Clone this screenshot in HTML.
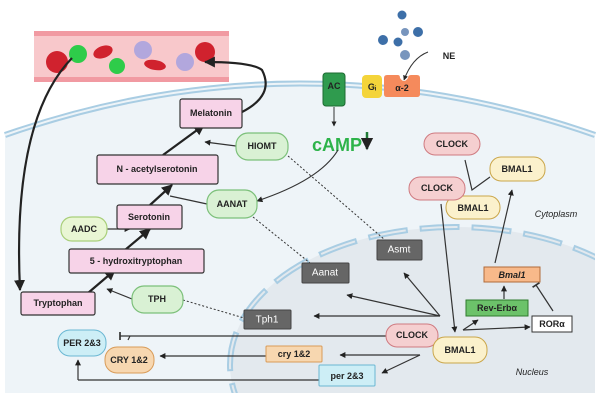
<!DOCTYPE html>
<html><head><meta charset="utf-8"><style>
html,body{margin:0;padding:0;background:#fff;width:600px;height:400px;overflow:hidden;}
svg{display:block;font-family:"Liberation Sans",sans-serif;}
text{font-weight:bold;font-size:9px;fill:#222;text-anchor:middle;dominant-baseline:central;}
</style></head><body>
<svg width="600" height="400" viewBox="0 0 600 400" xmlns="http://www.w3.org/2000/svg">
<defs>
<marker id="a" viewBox="0 0 10 10" refX="9" refY="5" markerWidth="5" markerHeight="5" orient="auto"><path d="M0,0L10,5L0,10z" fill="#222"/></marker>
<marker id="t" viewBox="0 0 4 10" refX="2" refY="5" markerWidth="3" markerHeight="7" orient="auto"><path d="M2,0V10" stroke="#333" stroke-width="2"/></marker>
<clipPath id="cc"><rect x="5" y="0" width="590" height="393"/></clipPath>
</defs>
<path d="M5,135 Q300,32 595,135 L595,393 L5,393Z" fill="#eef4f8"/>
<path d="M5,135 Q300,32 595,135" fill="none" stroke="#a9cde3" stroke-width="6"/>
<path d="M5,135 Q300,32 595,135" fill="none" stroke="#eef4f8" stroke-width="2"/>
<g clip-path="url(#cc)">
<ellipse cx="455" cy="365" rx="225" ry="138" fill="#e3e9ee"/>
<ellipse cx="455" cy="365" rx="225" ry="138" fill="none" stroke="#a9cde3" stroke-width="6" stroke-dasharray="40 12"/>
<ellipse cx="455" cy="365" rx="225" ry="138" fill="none" stroke="#e3e9ee" stroke-width="2" stroke-dasharray="36 16" stroke-dashoffset="-2"/>
</g>
<rect x="34" y="31" width="195" height="51" fill="#f8c8cb"/>
<rect x="34" y="31" width="195" height="5" fill="#f19aa2"/>
<rect x="34" y="77" width="195" height="5" fill="#f19aa2"/>
<circle cx="57" cy="62" r="11" fill="#d0222e"/>
<circle cx="78" cy="54" r="9" fill="#2ecc4a"/>
<ellipse cx="103" cy="52" rx="10" ry="6" fill="#d0222e" transform="rotate(-20 103 52)"/>
<circle cx="117" cy="66" r="8" fill="#2ecc4a"/>
<circle cx="143" cy="50" r="9" fill="#b2a7dd"/>
<ellipse cx="155" cy="65" rx="11" ry="5" fill="#d0222e" transform="rotate(10 155 65)"/>
<circle cx="185" cy="62" r="9" fill="#b2a7dd"/>
<circle cx="205" cy="52" r="10" fill="#d0222e"/>
<g fill="#3d6fa8"><circle cx="402" cy="15" r="4.5"/><circle cx="418" cy="32" r="5"/><circle cx="405" cy="32" r="4" fill="#7895bd"/><circle cx="398" cy="42" r="4.5"/><circle cx="383" cy="40" r="5"/><circle cx="405" cy="55" r="5" fill="#7895bd"/></g>
<text x="449" y="56">NE</text>
<path d="M428,52 Q412,58 404,80" fill="none" stroke="#333" stroke-width="1" marker-end="url(#a)"/>
<rect x="323" y="73" width="22" height="33" rx="3" fill="#2f9b4e" stroke="#1d6b32"/>
<text x="334" y="86" font-size="8">AC</text>
<rect x="362" y="75" width="20" height="23" rx="4" fill="#f4d43a"/>
<text x="372" y="87" font-size="7">Gᵢ</text>
<path d="M384,78 q0,-3 3,-3 h11 q2,0 2,3 q4,6 8,0 q0,-3 3,-3 h6 q3,0 3,3 v16 q0,3 -3,3 h-30 q-3,0 -3,-3z" fill="#f58a5c"/>
<text x="402" y="88" font-size="8">α-2</text>
<line x1="334" y1="107" x2="334" y2="126" stroke="#333" marker-end="url(#a)"/>
<text x="337" y="145" style="font-size:18px;fill:#2db34a">cAMP</text>
<path d="M367,132 v17" stroke="#1f7a36" stroke-width="2.5" marker-end="url(#a)"/>
<g stroke="#222" stroke-width="2.2" fill="none">
<path d="M72,58 Q12,120 20,290" marker-end="url(#a)"/>
<path d="M242,112 Q275,95 262,70 Q252,62 205,62" marker-end="url(#a)"/>
<path d="M88,293 L115,270" marker-end="url(#a)"/>
<path d="M125,250 L150,229" marker-end="url(#a)"/>
<path d="M150,205 L172,185" marker-end="url(#a)"/>
<path d="M163,155 L204,125" marker-end="url(#a)"/>
</g>
<g stroke="#333" stroke-width="1.2" fill="none">
<line x1="236" y1="146" x2="205" y2="142" marker-end="url(#a)"/>
<line x1="207" y1="204" x2="170" y2="196" />
<line x1="107" y1="229" x2="130" y2="229" marker-end="url(#a)"/>
<line x1="132" y1="299" x2="107" y2="289" marker-end="url(#a)"/>
<path d="M338,150 Q320,180 257,201" marker-end="url(#a)"/>
</g>
<g stroke="#333" stroke-width="1" stroke-dasharray="2 2" fill="none">
<line x1="288" y1="156" x2="385" y2="240"/>
<line x1="253" y1="217" x2="310" y2="263"/>
<line x1="183" y1="300" x2="244" y2="318"/>
</g>
<g stroke="#333" stroke-width="1.2" fill="none">
<line x1="441" y1="204" x2="455" y2="332" marker-end="url(#a)"/>
<line x1="495" y1="263" x2="512" y2="190" marker-end="url(#a)"/>
<line x1="440" y1="316" x2="404" y2="273" marker-end="url(#a)"/>
<line x1="440" y1="316" x2="347" y2="295" marker-end="url(#a)"/>
<line x1="440" y1="316" x2="314" y2="316" marker-end="url(#a)"/>
<line x1="386" y1="336" x2="120" y2="336" marker-end="url(#t)"/>
<line x1="130" y1="336" x2="128" y2="340"/>
<line x1="420" y1="355" x2="340" y2="355" marker-end="url(#a)"/>
<line x1="420" y1="355" x2="382" y2="373" marker-end="url(#a)"/>
<line x1="266" y1="356" x2="160" y2="356" marker-end="url(#a)"/>
<line x1="319" y1="380" x2="78" y2="380"/>
<line x1="78" y1="380" x2="78" y2="360" marker-end="url(#a)"/>
<line x1="463" y1="330" x2="478" y2="320" marker-end="url(#a)"/>
<line x1="463" y1="330" x2="530" y2="327" marker-end="url(#a)"/>
<line x1="504" y1="299" x2="504" y2="286" marker-end="url(#a)"/>
<line x1="553" y1="311" x2="536" y2="285" marker-end="url(#t)"/>
<path d="M465,160 L472,190 L490,177"/>
</g>
<g stroke="#333" stroke-width="1.2">
<rect x="180" y="99" width="62" height="29" rx="2" fill="#f7d3e8"/>
<rect x="97" y="155" width="121" height="29" rx="2" fill="#f7d3e8"/>
<rect x="117" y="205" width="65" height="24" rx="2" fill="#f7d3e8"/>
<rect x="69" y="249" width="135" height="24" rx="2" fill="#f7d3e8"/>
<rect x="21" y="292" width="74" height="23" rx="2" fill="#f7d3e8"/>
</g>
<g stroke="#7cc07a" stroke-width="1.2" fill="#d9f1d4">
<rect x="236" y="133" width="52" height="27" rx="12"/>
<rect x="207" y="190" width="50" height="28" rx="12"/>
<rect x="132" y="286" width="51" height="27" rx="12"/>
<rect x="61" y="217" width="46" height="24" rx="11" fill="#e9f6d4" stroke="#a9cf7a"/>
</g>
<text x="211" y="113">Melatonin</text>
<text x="157" y="169">N - acetylserotonin</text>
<text x="149" y="217">Serotonin</text>
<text x="136" y="261">5 - hydroxitryptophan</text>
<text x="58" y="303">Tryptophan</text>
<text x="262" y="146">HIOMT</text>
<text x="232" y="204">AANAT</text>
<text x="157" y="299">TPH</text>
<text x="84" y="229" font-size="8">AADC</text>
<g fill="#666" stroke="#444">
<rect x="244" y="310" width="47" height="19" rx="1"/>
<rect x="302" y="263" width="47" height="20" rx="1"/>
<rect x="377" y="240" width="45" height="20" rx="1"/>
</g>
<text x="267" y="320" style="fill:#fff;font-weight:normal;font-size:10px">Tph1</text>
<text x="325" y="273" style="fill:#fff;font-weight:normal;font-size:10px">Aanat</text>
<text x="399" y="250" style="fill:#fff;font-weight:normal;font-size:10px">Asmt</text>
<rect x="58" y="330" width="48" height="26" rx="12" fill="#cdeef6" stroke="#6ab7d3"/>
<text x="82" y="343">PER 2&amp;3</text>
<rect x="105" y="347" width="49" height="26" rx="12" fill="#f7d7b0" stroke="#d89b58"/>
<text x="129" y="360">CRY 1&amp;2</text>
<rect x="266" y="346" width="56" height="16" rx="1" fill="#f7d7b0" stroke="#d89b58"/>
<text x="294" y="354" font-size="8">cry 1&amp;2</text>
<rect x="319" y="365" width="56" height="21" rx="1" fill="#cdeef6" stroke="#6ab7d3"/>
<text x="347" y="376" font-size="8">per 2&amp;3</text>
<rect x="386" y="324" width="52" height="23" rx="11" fill="#f5cfd0" stroke="#cf7a80"/>
<text x="412" y="335" font-size="11">CLOCK</text>
<rect x="433" y="337" width="54" height="26" rx="12" fill="#fbf1cc" stroke="#caa64a"/>
<text x="460" y="350" font-size="11">BMAL1</text>
<rect x="466" y="300" width="62" height="16" fill="#6cc26a" stroke="#2f7b2e"/>
<text x="497" y="308" font-size="8">Rev-Erbα</text>
<rect x="532" y="316" width="40" height="16" fill="#fff" stroke="#333"/>
<text x="552" y="324" font-size="8">RORα</text>
<rect x="484" y="267" width="56" height="15" fill="#f8b98a" stroke="#b06c3a"/>
<text x="512" y="275" font-size="8" font-style="italic">Bmal1</text>
<rect x="424" y="133" width="56" height="22" rx="11" fill="#f5cfd0" stroke="#cf7a80"/>
<text x="452" y="144">CLOCK</text>
<rect x="490" y="157" width="55" height="24" rx="11" fill="#fbf1cc" stroke="#caa64a"/>
<text x="517" y="169">BMAL1</text>
<rect x="446" y="196" width="54" height="23" rx="11" fill="#fbf1cc" stroke="#caa64a"/>
<text x="473" y="208">BMAL1</text>
<rect x="409" y="177" width="56" height="23" rx="11" fill="#f5cfd0" stroke="#cf7a80"/>
<text x="437" y="188">CLOCK</text>
<text x="556" y="214" style="font-weight:normal;font-style:italic;font-size:9px">Cytoplasm</text>
<text x="532" y="372" style="font-weight:normal;font-style:italic;font-size:9px">Nucleus</text>
</svg>
</body></html>
